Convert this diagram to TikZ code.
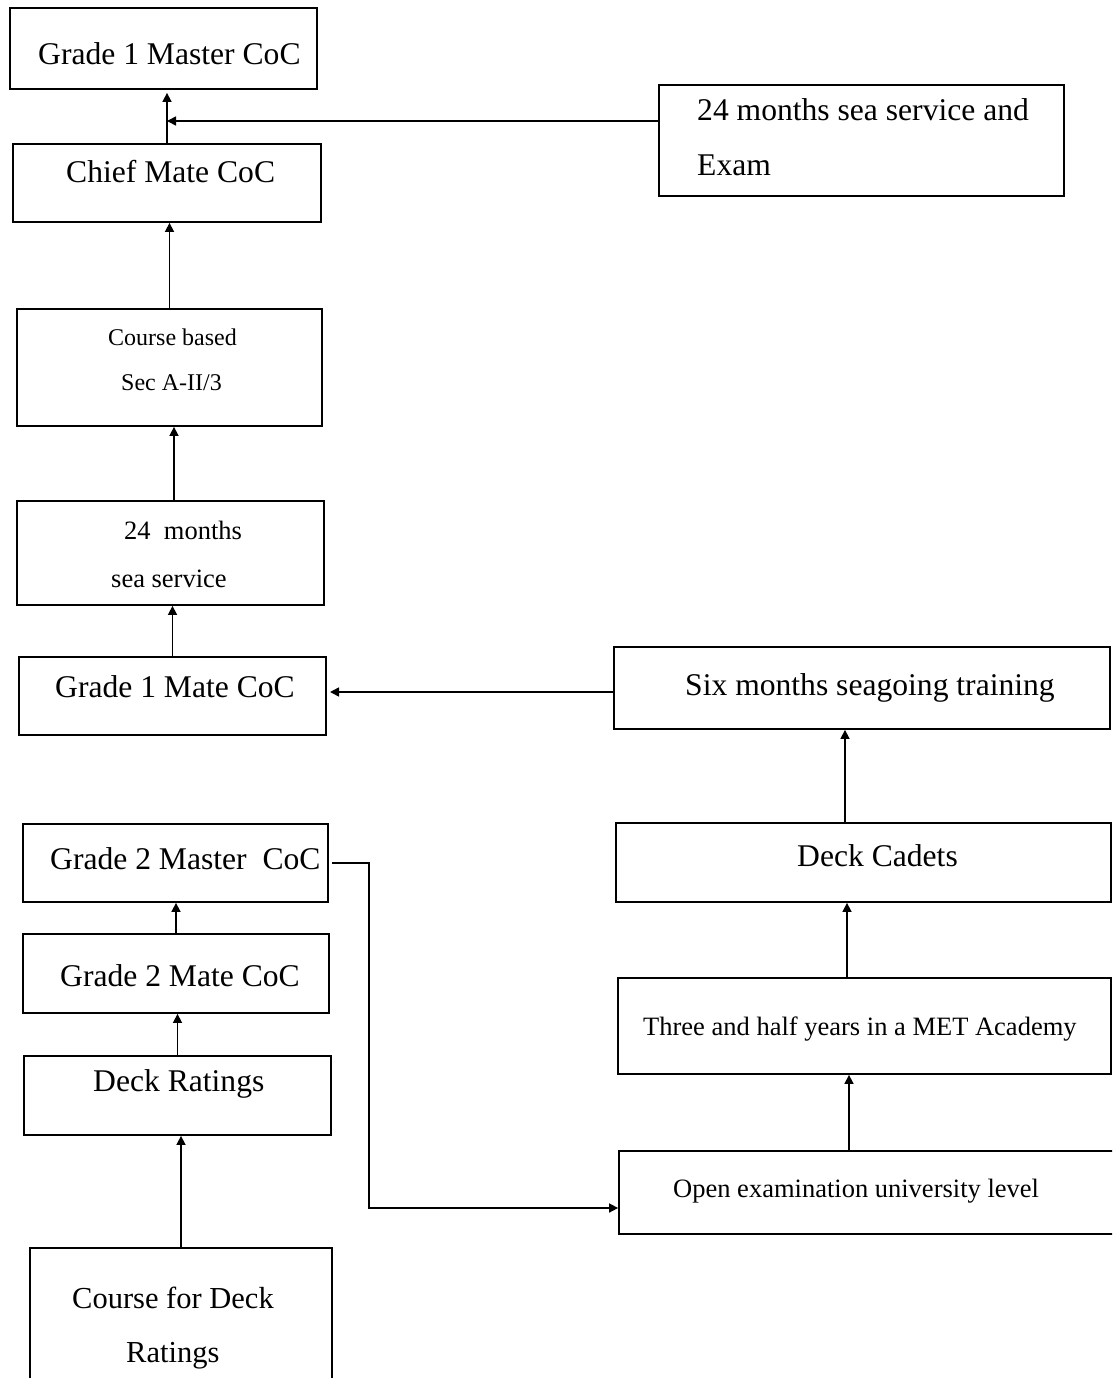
\documentclass[tikz,border=0pt]{standalone}
\usepackage{fontspec}
\setmainfont{Liberation Serif}
\usetikzlibrary{arrows.meta}
\begin{document}
\begin{tikzpicture}[x=1pt,y=-1pt,
  box/.style={draw, line width=1.8pt, inner sep=0pt, rectangle},
  txtL/.style={font=\fontsize{31.6}{38}\selectfont, inner sep=0pt, anchor=base west},
  txtR/.style={font=\fontsize{30.5}{36}\selectfont, inner sep=0pt, anchor=base west},
  txtM/.style={font=\fontsize{26.5}{32}\selectfont, inner sep=0pt, anchor=base west},
  txtS/.style={font=\fontsize{24}{29}\selectfont, inner sep=0pt, anchor=base west},
  arr/.style={line width=1.6pt, -{Triangle[length=9pt,width=9pt]}}]
\clip (0,0) rectangle (1112,1378);
\fill[white] (0,0) rectangle (1112,1378);
% boxes
\node[box, minimum width=307pt, minimum height=81pt]  (m1)  at (163.5,48.5) {};
\node[box, minimum width=308pt, minimum height=78pt]  (cm)  at (167,183) {};
\node[box, minimum width=405pt, minimum height=111pt] (sx)  at (861.5,140.5) {};
\node[box, minimum width=305pt, minimum height=117pt] (cb)  at (169.5,367.5) {};
\node[box, minimum width=307pt, minimum height=104pt] (sm)  at (170.5,553) {};
\node[box, minimum width=307pt, minimum height=78pt]  (g1)  at (172.5,696) {};
\node[box, minimum width=496pt, minimum height=82pt]  (six) at (862,688) {};
\node[box, minimum width=305pt, minimum height=78pt]  (g2m) at (175.5,863) {};
\node[box, minimum width=495pt, minimum height=79pt]  (dc)  at (863.5,862.5) {};
\node[box, minimum width=306pt, minimum height=79pt]  (g2)  at (176,973.5) {};
\node[box, minimum width=307pt, minimum height=79pt]  (dr)  at (177.5,1095.5) {};
\node[box, minimum width=493pt, minimum height=96pt]  (th)  at (864.5,1026) {};
\node[box, minimum width=511pt, minimum height=83pt]  (oe)  at (874.5,1192.5) {};
\node[box, minimum width=302pt, minimum height=172pt] (cd)  at (181,1334) {};
% texts
\node[txtL] (m1t)  at (38,65)   {Grade 1 Master CoC};
\node[txtL] (cmt)  at (66,182)  {Chief Mate CoC};
\node[txtL] (sxt1) at (697,121) {24 months sea service and};
\node[txtL] (sxt2) at (697,175) {Exam};
\node[txtS] (cbt1) at (108,345) {Course based};
\node[txtS] (cbt2) at (121,390) {Sec A-II/3};
\node[txtM] (smt1) at (124,539) {24~ months};
\node[txtM] (smt2) at (111,587) {sea service};
\node[txtL] (g1t)  at (55,697)  {Grade 1 Mate CoC};
\node[txtL] (sixt) at (685,695) {Six months seagoing training};
\node[txtL] (g2mt) at (50,869)  {Grade 2 Master~ CoC};
\node[txtL] (dct)  at (797,866) {Deck Cadets};
\node[txtL] (g2t)  at (60,986)  {Grade 2 Mate CoC};
\node[txtL] (drt)  at (93,1091) {Deck Ratings};
\node[txtM] (tht)  at (643,1035) {Three and half years in a MET Academy};
\node[txtM] (oet)  at (673,1197) {Open examination university level};
\node[txtR] (cdt1) at (72,1308) {Course for Deck};
\node[txtR] (cdt2) at (126,1362) {Ratings};
% junction coordinates
\coordinate (j1) at (167,121);
\coordinate (j2) at (330,692);
\coordinate (a7) at (845,0);
\coordinate (a8) at (847,0);
\coordinate (a9) at (849,0);
\coordinate (a4) at (174,0);
\coordinate (k1) at (369,1208);
% connectors
\draw[arr, shorten >=3pt] (cm.north) -- (cm.north |- m1.south);
\draw[arr] (sx.west |- j1) -- (j1);
\draw[arr] (cb.north) -- (cb.north |- cm.south);
\draw[arr] (sm.north -| a4) -- (cb.south -| a4);
\draw[arr] (g1.north) -- (g1.north |- sm.south);
\draw[arr] (six.west |- j2) -- (j2);
\draw[arr] (dc.north -| a7) -- (six.south -| a7);
\draw[arr] (th.north -| a8) -- (dc.south -| a8);
\draw[arr] (oe.north -| a9) -- (th.south -| a9);
\draw[arr] (g2.north) -- (g2.north |- g2m.south);
\draw[arr] (dr.north) -- (dr.north |- g2.south);
\draw[arr] (cd.north) -- (cd.north |- dr.south);
\draw[arr] ([xshift=3pt]g2m.east) -| (k1) -- (oe.west |- k1);
\end{tikzpicture}
\end{document}
